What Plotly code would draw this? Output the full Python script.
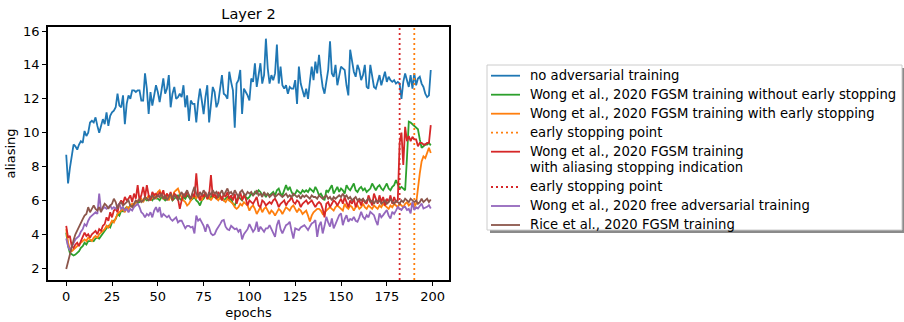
import plotly.graph_objects as go

epochs = list(range(200))

no_adv = [
    8.7, 7.0, 7.9, 8.6, 9.3, 9.2, 9.0, 9.3, 9.5, 9.4,
    10.1, 9.8, 10.0, 10.6, 10.7, 10.6, 10.9, 10.4, 10.0, 10.4,
    10.8, 10.5, 11.2, 10.4, 11.0, 11.2, 11.3, 11.5, 12.3, 11.6,
    11.5, 12.2, 10.5, 11.7, 12.2, 12.0, 12.5, 12.5, 12.4, 12.5,
    12.5, 11.9, 11.9, 13.5, 12.6, 11.1, 12.4, 11.6, 12.2, 12.8,
    12.4, 11.8, 12.5, 13.2, 12.3, 12.6, 13.4, 11.5, 12.3, 12.7,
    12.0, 12.1, 12.3, 12.1, 12.8, 11.5, 12.2, 10.7, 11.9, 11.7,
    11.7, 10.6, 11.8, 12.6, 11.9, 11.1, 12.1, 12.8, 10.6, 11.6,
    12.7, 12.4, 11.5, 11.8, 12.7, 13.4, 12.3, 12.2, 12.0, 13.6,
    13.0, 12.5, 10.3, 12.9, 13.1, 13.7, 11.1, 12.6, 12.4, 12.2,
    11.9, 13.2, 13.0, 14.1, 12.7, 13.3, 14.1, 12.9, 13.4, 15.55,
    13.8, 12.9, 13.4, 13.1, 13.5, 15.2, 12.9, 13.9, 12.8, 12.6,
    12.8, 12.3, 12.7, 12.6, 12.6, 13.1, 11.7, 13.9, 12.9, 12.5,
    12.1, 12.6, 12.0, 13.0, 13.9, 13.1, 14.2, 13.5, 14.6, 13.5,
    12.7, 12.3, 13.0, 13.7, 15.4, 13.5, 13.3, 14.0, 12.8, 13.3,
    13.9, 13.8, 13.7, 12.8, 12.2, 14.9, 14.1, 13.6, 13.3, 14.0,
    13.7, 13.1, 13.4, 14.0, 12.7, 12.6, 14.0, 13.2, 12.7, 12.6,
    13.1, 13.4, 12.8, 13.2, 13.6, 13.0, 13.3, 13.1, 13.0, 13.1,
    12.9, 13.0, 12.9, 12.0, 13.0, 13.5, 13.0, 12.7, 13.4, 12.6,
    13.5, 12.8, 13.2, 13.3, 12.9, 12.7, 12.3, 12.1, 12.2, 13.7,
]

fgsm_no_es = [
    4.1, 3.3, 2.9, 2.8, 2.75, 2.8, 2.9, 3.0, 3.2, 3.3,
    3.5, 3.4, 3.6, 3.6, 3.65, 3.6, 3.75, 3.8, 3.75, 3.9,
    4.0, 4.2, 4.3, 4.5, 4.4, 4.7, 4.8, 4.9, 5.2, 5.1,
    5.4, 5.35, 5.5, 5.6, 5.55, 5.7, 5.65, 5.8, 5.9, 5.85,
    5.9, 6.0, 5.95, 6.1, 6.0, 6.05, 6.1, 6.0, 6.2, 6.1,
    6.1, 6.0, 6.2, 6.1, 6.0, 6.15, 6.1, 6.25, 6.0, 6.1,
    6.2, 6.3, 6.1, 6.0, 6.2, 6.1, 6.3, 6.2, 6.0, 6.1,
    6.2, 6.0, 5.9, 5.7, 6.0, 6.1, 6.3, 6.2, 6.1, 6.2,
    6.3, 6.2, 6.1, 6.25, 6.1, 6.2, 6.0, 6.1, 6.2, 6.0,
    6.1, 5.8, 5.7, 6.0, 6.2, 6.1, 6.0, 6.3, 6.2, 6.1,
    6.2, 6.4, 6.3, 6.5, 6.4, 6.6, 6.5, 6.3, 6.4, 6.2,
    6.4, 6.3, 6.4, 6.5, 6.3, 6.6, 6.7, 6.4, 6.3, 6.6,
    6.9, 6.6, 6.8, 6.5, 6.3, 6.4, 6.6, 6.5, 6.4, 6.6,
    6.5, 6.6, 6.5, 6.7, 6.6, 6.5, 6.8, 6.6, 6.3, 6.4,
    6.2, 6.0, 6.6, 6.5, 6.7, 6.9, 6.4, 6.6, 6.8, 6.5,
    6.7, 6.6, 6.4, 6.9, 6.7, 6.6, 6.8, 7.0, 6.6, 6.5,
    6.7, 6.8, 6.6, 6.7, 6.5, 6.6, 6.7, 7.0, 6.8, 6.6,
    6.8, 6.9, 6.7, 6.6, 6.8, 7.0, 6.7, 6.6, 6.8, 6.9,
    7.2, 6.9, 6.7, 6.8, 6.7, 6.6, 8.5, 10.65, 10.6, 10.5,
    10.4, 10.3, 10.2, 9.6, 9.1, 9.2, 9.3, 9.3, 9.4, 9.25,
]

fgsm_es = [
    4.3, 3.5, 3.1, 3.0, 3.1, 3.2, 3.3, 3.4, 3.5, 3.6,
    3.7, 3.6, 3.8, 3.7, 3.6, 3.8, 3.9, 3.8, 4.0, 4.1,
    4.2, 4.3, 4.5, 4.4, 4.6, 4.8, 4.7, 5.0, 5.2, 5.3,
    5.4, 5.5, 5.3, 5.6, 5.5, 5.7, 5.8, 5.7, 5.9, 6.0,
    6.0, 6.1, 5.9, 6.2, 6.1, 6.3, 6.0, 6.2, 6.4, 6.1,
    6.5, 6.6, 6.3, 6.1, 6.2, 6.4, 6.0, 6.3, 6.2, 6.5,
    6.6, 6.7, 6.4, 6.2, 6.0, 5.9, 5.7, 5.8, 6.0, 6.2,
    6.3, 6.1, 6.4, 6.2, 6.0, 6.3, 6.4, 6.1, 6.2, 6.0,
    6.2, 6.3, 6.1, 6.0, 6.2, 6.1, 6.0, 5.9, 6.1, 6.0,
    5.9, 5.8, 5.6, 5.5, 5.6, 5.8, 5.7, 5.9, 5.8, 5.7,
    5.4, 5.6, 5.7, 5.5, 5.2, 5.4, 5.6, 5.3, 5.5, 5.6,
    5.4, 5.2, 5.4, 5.3, 5.1, 5.3, 5.5, 5.4, 5.2, 5.4,
    5.6, 5.5, 5.4, 5.6, 5.7, 5.5, 5.3, 5.5, 5.4, 5.2,
    5.3, 5.4, 5.1, 4.75, 5.1, 5.3, 5.4, 5.5, 5.5, 5.4,
    5.2, 5.3, 5.4, 5.5, 5.6, 5.5, 5.4, 5.6, 5.7, 5.6,
    5.5, 5.4, 5.8, 5.6, 5.5, 5.7, 5.6, 5.4, 5.6, 5.7,
    5.5, 5.6, 5.8, 5.6, 5.5, 5.7, 5.6, 5.5, 5.7, 5.6,
    5.5, 5.7, 5.6, 5.8, 5.7, 5.6, 5.5, 5.7, 5.6, 5.8,
    5.7, 5.6, 5.8, 5.7, 5.6, 5.8, 5.9, 5.7, 5.8, 5.7,
    5.6, 5.8, 6.8, 7.6, 8.3, 8.6, 8.5, 8.8, 9.1, 8.8,
]

fgsm_alias = [
    4.5, 3.8, 3.9, 3.3, 3.2, 3.4, 3.5, 3.3, 3.6, 3.9,
    4.1, 3.9, 4.0, 3.8, 4.0, 4.1, 4.2, 4.0, 4.3, 4.2,
    4.5, 4.6, 5.0, 4.8, 5.3, 5.0, 5.4, 5.5, 5.3, 5.8,
    6.0, 5.8, 6.2, 6.0, 6.1, 6.3, 5.9, 6.4, 6.1, 6.9,
    6.0, 6.3, 6.8, 6.2, 6.9, 6.3, 6.0, 6.5, 6.3, 6.4,
    6.2, 6.5, 6.3, 6.6, 6.1, 6.4, 6.2, 6.5, 6.0, 6.4,
    6.3, 6.1, 5.5, 6.0, 6.4, 6.2, 6.5, 6.3, 6.1, 6.4,
    6.2, 7.6, 6.3, 6.0, 6.4, 6.2, 6.5, 6.1, 6.3, 7.5,
    6.2, 6.4, 6.1, 6.5, 6.3, 6.0, 6.4, 6.2, 6.5, 6.1,
    6.3, 6.0, 6.4, 5.8, 6.2, 6.5, 6.0, 6.3, 6.1, 5.7,
    6.0, 5.9, 5.8, 6.0, 6.2, 5.7, 5.6, 6.0, 5.9, 5.7,
    5.8, 5.9, 5.8, 6.0, 6.1, 5.9, 5.6, 5.8, 5.9, 6.0,
    5.7, 5.9, 6.0, 6.2, 5.9, 5.8, 6.0, 5.9, 5.6, 5.8,
    5.9, 6.0, 5.8, 5.9, 6.0, 5.8, 5.6, 5.8, 5.9, 5.8,
    5.5, 5.0, 5.8, 5.9, 5.6, 5.8, 6.0, 5.9, 5.7, 5.9,
    6.1, 5.8, 6.2, 5.9, 5.6, 6.0, 5.8, 6.1, 5.6, 5.9,
    6.0, 5.7, 6.1, 5.9, 5.8, 6.3, 6.0, 5.7, 6.4, 6.1,
    5.8, 6.3, 5.9, 6.2, 5.7, 6.1, 5.9, 6.3, 5.8, 6.2,
    5.9, 6.0, 9.4, 10.0, 8.1, 10.35, 9.5, 9.8, 9.5, 9.75,
    9.6, 9.6, 9.2, 9.4, 9.4, 9.3, 9.3, 9.4, 9.4, 10.45,
]

free_adv = [
    3.75, 3.3, 3.05, 3.3, 3.5, 3.7, 3.8, 3.9, 4.15, 4.3,
    4.6, 4.5, 4.8, 5.0, 5.1, 5.2, 5.3, 5.2, 6.4, 5.4,
    5.5, 5.6, 5.5, 5.6, 5.7, 5.5, 5.6, 5.5, 5.7, 5.8,
    5.5, 5.6, 5.4, 5.5, 5.3, 5.5, 5.4, 5.6, 5.7, 5.8,
    5.6, 5.3, 5.2, 5.0, 5.2, 5.1, 5.3, 5.0, 5.4, 5.6,
    5.3, 5.6, 5.0, 5.2, 5.1, 5.0, 5.1, 4.9, 4.8, 4.9,
    5.0, 4.7, 4.8, 4.8, 4.6, 4.35, 4.5, 4.5, 4.4, 4.45,
    4.05, 5.1, 4.8, 4.9, 4.7, 4.5, 4.15, 4.6, 4.4, 4.05,
    3.95, 4.0, 4.25, 4.4, 4.6, 4.8, 4.84, 4.45, 4.3, 4.25,
    4.5, 4.4, 4.3, 4.35, 4.15, 4.3, 3.7, 4.0, 4.15, 4.3,
    4.6, 4.35, 4.15, 4.3, 4.74, 4.15, 4.45, 4.3, 4.15, 4.35,
    4.35, 4.54, 4.3, 4.1, 3.85, 4.54, 4.84, 4.3, 4.05, 4.3,
    4.54, 4.6, 4.74, 4.2, 3.75, 4.35, 4.3, 4.25, 4.4, 4.45,
    4.54, 4.4, 4.25, 4.45, 4.64, 4.7, 4.84, 3.85, 4.5, 4.74,
    4.05, 4.5, 5.03, 4.7, 4.45, 4.93, 4.35, 4.6, 4.84, 5.13,
    5.24, 4.54, 4.9, 5.13, 4.74, 4.9, 4.84, 5.03, 4.8, 4.74,
    5.0, 5.33, 5.03, 4.9, 5.13, 5.0, 5.33, 5.2, 5.13, 4.8,
    4.54, 5.23, 5.0, 5.13, 5.3, 5.43, 5.1, 4.93, 5.33, 5.2,
    5.4, 5.62, 5.5, 5.43, 5.6, 5.62, 5.43, 5.5, 5.23, 5.92,
    5.43, 5.6, 5.52, 5.7, 5.82, 5.52, 5.55, 5.62, 5.72, 5.52,
]

rice_fgsm = [
    1.95, 2.4, 2.87, 3.3, 3.65, 4.0, 4.25, 4.5, 4.7, 4.9,
    5.1, 5.2, 5.6, 5.3, 5.5, 5.7, 5.5, 5.4, 5.6, 5.3,
    5.6, 5.8, 5.7, 5.5, 5.7, 5.8, 6.1, 5.9, 5.5, 5.8,
    5.9, 5.7, 5.8, 5.9, 6.0, 5.7, 5.6, 5.8, 6.0, 5.9,
    6.1, 5.9, 6.0, 6.2, 6.1, 6.0, 6.2, 6.3, 6.1, 6.2,
    6.3, 6.2, 6.4, 6.1, 6.3, 6.0, 6.2, 6.4, 6.1, 6.3,
    6.2, 6.0, 6.3, 6.5, 6.2, 6.4, 6.6, 6.3, 6.1, 6.5,
    6.8, 6.4, 6.2, 6.5, 6.3, 6.6, 6.4, 6.2, 6.5, 6.3,
    6.6, 6.4, 6.5, 6.2, 6.4, 6.6, 6.3, 6.5, 6.7, 6.4,
    6.5, 6.3, 6.6, 6.4, 6.2, 6.5, 6.6, 6.4, 6.3, 6.5,
    6.4, 6.5, 6.3, 6.4, 6.6, 6.3, 6.4, 6.2, 6.5, 6.3,
    6.4, 6.2, 6.3, 6.4, 6.2, 6.3, 6.4, 6.3, 6.2, 6.3,
    6.4, 6.2, 6.3, 6.2, 6.4, 6.3, 6.2, 6.3, 6.1, 6.3,
    6.2, 6.3, 6.2, 6.1, 6.3, 6.2, 6.2, 6.1, 6.3, 6.2,
    6.1, 6.2, 6.3, 6.1, 6.2, 6.0, 6.2, 6.1, 6.2, 6.3,
    6.2, 6.4, 6.2, 6.3, 6.1, 6.2, 6.0, 6.1, 6.2, 6.0,
    6.1, 6.0, 6.1, 5.9, 6.0, 6.1, 5.9, 6.0, 5.8, 6.0,
    5.9, 6.0, 5.8, 5.9, 6.0, 5.8, 5.9, 6.1, 5.9, 5.8,
    6.0, 5.9, 5.8, 6.0, 5.9, 6.1, 6.0, 5.9, 6.1, 6.0,
    5.9, 6.0, 5.8, 5.9, 6.1, 5.9, 6.0, 6.1, 5.9, 6.05,
]

early_stop_fgsm = 190
early_stop_alias = 182

x_range = [-9.95, 208.95]
y_range = [1.30, 16.24]
x_ticks = [0, 25, 50, 75, 100, 125, 150, 175, 200]
y_ticks = [2, 4, 6, 8, 10, 12, 14, 16]

legend_labels = [
    ["no adversarial training"],
    ["Wong et al., 2020 FGSM training without early stopping"],
    ["Wong et al., 2020 FGSM training with early stopping"],
    ["early stopping point"],
    ["Wong et al., 2020 FGSM training", "with aliasing stopping indication"],
    ["early stopping point"],
    ["Wong et al., 2020 free adversarial training"],
    ["Rice et al., 2020 FGSM training"],
]

C_BLUE, C_ORANGE, C_GREEN = "#1f77b4", "#ff7f0e", "#2ca02c"
C_RED, C_PURPLE, C_BROWN = "#d62728", "#9467bd", "#8c564b"
LW = 1.8
DOT = "2px,3px"
FS = 13
FONT = "DejaVu Sans"

# (y data or vline x, color, dash, is_vline)
series = [
    (no_adv, C_BLUE, "solid", False),
    (fgsm_no_es, C_GREEN, "solid", False),
    (fgsm_es, C_ORANGE, "solid", False),
    (early_stop_fgsm, C_ORANGE, DOT, True),
    (fgsm_alias, C_RED, "solid", False),
    (early_stop_alias, C_RED, DOT, True),
    (free_adv, C_PURPLE, "solid", False),
    (rice_fgsm, C_BROWN, "solid", False),
]

fig = go.Figure()
for (data, color, dash, is_vline), label in zip(series, legend_labels):
    if is_vline:
        xs, ys = [data, data], y_range
    else:
        xs, ys = epochs, data
    fig.add_trace(go.Scatter(x=xs, y=ys, mode="lines", name=" ".join(label),
                             showlegend=False, hoverinfo="skip",
                             line=dict(color=color, width=LW, dash=dash)))

L, R, T, B = 48, 455, 27, 42
W, H = 904, 322
pw, ph = W - L - R, H - T - B


def px_x(px):
    return (px - L) / pw


def px_y(py):
    return (H - B - py) / ph


# legend box (matplotlib-like, with drop shadow)
box_l, box_t, box_r, box_b = 487, 65, 902, 230
shapes = [
    dict(type="rect", xref="paper", yref="paper",
         x0=px_x(box_l + 3), x1=px_x(box_r + 3), y0=px_y(box_b + 3), y1=px_y(box_t + 3),
         fillcolor="#8a8a8a", line=dict(width=0), layer="above"),
    dict(type="rect", xref="paper", yref="paper",
         x0=px_x(box_l), x1=px_x(box_r), y0=px_y(box_b), y1=px_y(box_t),
         fillcolor="white", line=dict(width=1, color="#cccccc"), layer="above"),
]
annotations = []
row_y = 75.7
line_gap = 16.3
row_gap = 19.0
for (data, color, dash, is_vline), label in zip(series, legend_labels):
    shapes.append(dict(type="line", xref="paper", yref="paper",
                       x0=px_x(491), x1=px_x(520), y0=px_y(row_y), y1=px_y(row_y),
                       line=dict(color=color, width=LW, dash=dash), layer="above"))
    for i, txt in enumerate(label):
        annotations.append(dict(text=txt, xref="paper", yref="paper",
                                x=px_x(528), y=px_y(row_y + i * line_gap - 0.5),
                                xanchor="left", yanchor="middle", showarrow=False,
                                font=dict(family=FONT, size=13.2, color="black")))
    row_y += row_gap + (len(label) - 1) * line_gap

axis_common = dict(showgrid=False, zeroline=False, showline=True, linecolor="black",
                   linewidth=1.5, mirror=True, ticks="outside", ticklen=4,
                   tickwidth=1.2, tickcolor="black", automargin=False,
                   tickfont=dict(family=FONT, size=FS, color="black"))

fig.update_layout(
    width=W, height=H,
    margin=dict(l=L, r=R, t=T, b=B, autoexpand=False),
    paper_bgcolor="white", plot_bgcolor="white",
    font=dict(family=FONT, size=FS, color="black"),
    title=dict(text="Layer 2", x=0.5, xref="paper", xanchor="center",
               y=1, yref="paper", yanchor="bottom", pad=dict(b=8),
               automargin=False,
               font=dict(family=FONT, size=14.5, color="black")),
    xaxis=dict(range=x_range, tickvals=x_ticks,
               title=dict(text="epochs", standoff=5,
                          font=dict(family=FONT, size=FS, color="black")),
               **axis_common),
    yaxis=dict(range=y_range, tickvals=y_ticks,
               title=dict(text="aliasing", standoff=5,
                          font=dict(family=FONT, size=FS, color="black")),
               **axis_common),
    showlegend=False,
    shapes=shapes,
    annotations=annotations,
)

fig.write_html("out.html")
